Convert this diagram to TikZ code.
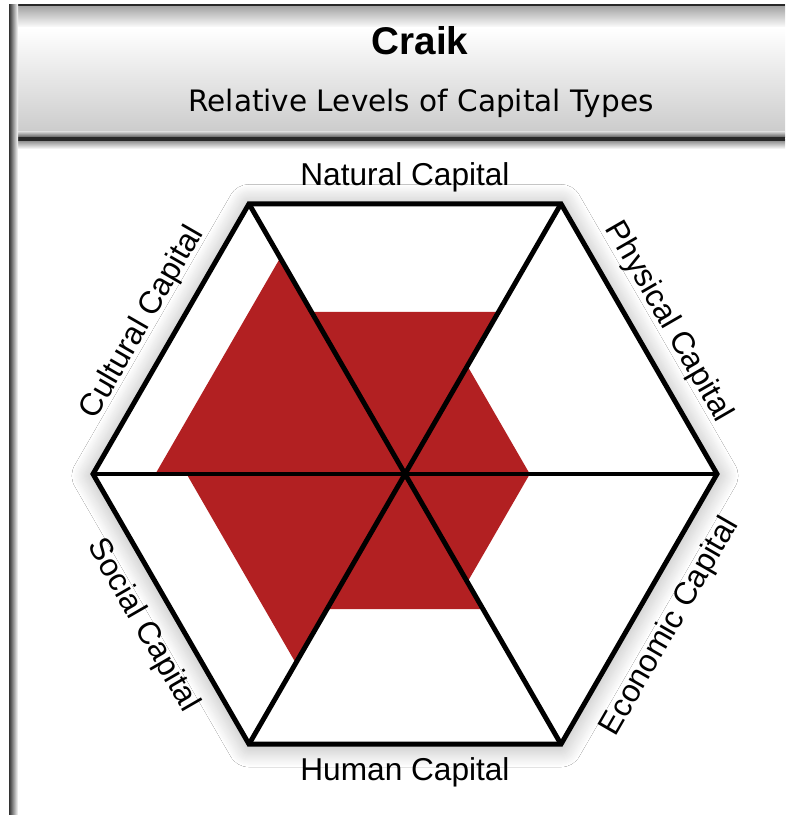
\documentclass[tikz,border=0pt]{standalone}
\usepackage{fontspec}
\setmainfont{Liberation Sans}
\newfontfamily\headfont{DejaVu Sans}
\usetikzlibrary{shadows.blur,calc}
\definecolor{capred}{RGB}{178,32,34}
\definecolor{frame}{RGB}{40,40,40}

\begin{document}
\begin{tikzpicture}[
    x=0.02cm, y=0.02cm,
    hexline/.style={line width=2.8pt, black},
    capital/.style={font=\fontsize{18}{20}\selectfont, inner sep=0pt},
    level/.style={fill=capred},
    headtitle/.style={font=\bfseries\fontsize{22}{24}\selectfont, anchor=base},
    headsub/.style={font=\headfont\fontsize{16.8}{20}\selectfont, anchor=base}
]
    \useasboundingbox (0,0) rectangle (785,815);
    \fill[white] (0,0) rectangle (785,815);

    % header bar
    \shade[top color=gray!75, bottom color=white] (10,810) rectangle (785,787);
    \shade[top color=white, bottom color=gray!40] (10,787) rectangle (785,683);
    \shade[top color=gray!40, bottom color=black!70] (10,683) rectangle (785,677);
    \shade[top color=gray!95, bottom color=white] (10,675) rectangle (785,666);
    \draw[frame, line width=1.8pt] (10,676) -- (785,676);
    \draw[frame, line width=0.8pt] (10,810) -- (785,810);
    \shade[left color=black!80, right color=white] (9,0) rectangle (18,810);

    \node[headtitle] (title) at (420,760) {Craik};
    \node[headsub] (subtitle) at (421,703) {Relative Levels of Capital Types};

    \begin{scope}[shift={(405,341)}]
        \coordinate (c) at (0,0);
        \foreach \a [count=\i from 0] in {0,60,...,300}
            \coordinate (v\i) at (\a:312);

        % white hexagon with soft shadow
        \fill[white, blur shadow={shadow xshift=0pt, shadow yshift=-1pt,
            shadow blur radius=12pt, shadow blur steps=20, shadow opacity=35}]
            (v0) -- (v1) -- (v2) -- (v3) -- (v4) -- (v5) -- cycle;

        % capital levels
        \foreach \lv [count=\i from 0] in {0.4,0.6,0.8,0.7,0.5,0.4}
            \fill[level] (c) -- (\i*60:\lv*312) -- (\i*60+60:\lv*312) -- cycle;

        \draw[hexline] (v0) -- (v1) -- (v2) -- (v3) -- (v4) -- (v5) -- cycle;
        \draw[hexline] (v0) -- (v3);
        \draw[hexline] (v1) -- (v4);
        \draw[hexline] (v2) -- (v5);

        \node[capital] (natural) at (90:297) {Natural Capital};
        \node[capital, rotate=-60] (physical) at (30:304) {Physical Capital};
        \node[capital, rotate=60] (cultural) at (150:303) {Cultural Capital};
        \node[capital, rotate=-60] (social) at (210:303) {Social Capital};
        \node[capital, rotate=60] (economic) at (330:306) {Economic Capital};
        \node[capital] (human) at (270:298) {Human Capital};
    \end{scope}
\end{tikzpicture}
\end{document}
